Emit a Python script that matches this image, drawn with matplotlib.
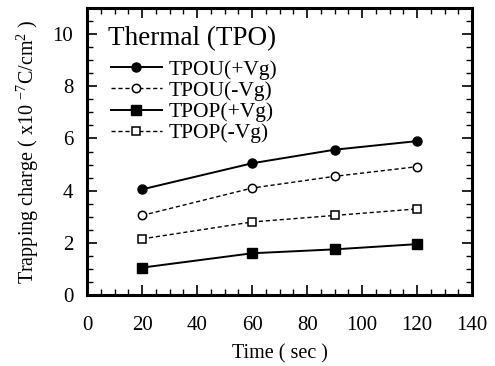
import matplotlib
matplotlib.use("Agg")
import matplotlib.pyplot as plt
from matplotlib.ticker import MultipleLocator

plt.rcParams['font.family'] = ['Liberation Serif', 'DejaVu Serif']
plt.rcParams['mathtext.fontset'] = 'custom'
plt.rcParams['mathtext.rm'] = 'Liberation Serif'
plt.rcParams['mathtext.it'] = 'Liberation Serif:italic'

time_sec = [20, 60, 90, 120]
tpou_pos = [4.05, 5.05, 5.57, 5.9]
tpou_neg = [3.05, 4.1, 4.55, 4.92]
tpop_pos = [1.05, 1.6, 1.75, 1.95]
tpop_neg = [2.15, 2.8, 3.05, 3.3]

fig = plt.figure(figsize=(4.95, 3.66), dpi=100)
axe = fig.add_axes([0.176, 0.194, 0.778, 0.784])

dash = (0, (3, 2))
axe.plot(time_sec, tpou_pos, color='black', linestyle='-', linewidth=1.4,
         marker='o', markersize=6.5, label='TPOU(+Vg)')
axe.plot(time_sec, tpou_neg, color='black', linestyle=dash, linewidth=1.0,
         marker='o', markersize=6, markerfacecolor='white', markeredgewidth=1.1,
         label='TPOU(-Vg)')
axe.plot(time_sec, tpop_pos, color='black', linestyle='-', linewidth=1.4,
         marker='s', markersize=7, label='TPOP(+Vg)')
axe.plot(time_sec, tpop_neg, color='black', linestyle=dash, linewidth=1.0,
         marker='s', markersize=6, markerfacecolor='white', markeredgewidth=1.1,
         label='TPOP(-Vg)')

axe.set_xlim(0, 140)
axe.set_ylim(0, 11)
axe.xaxis.set_major_locator(MultipleLocator(20))
axe.xaxis.set_minor_locator(MultipleLocator(5))
axe.yaxis.set_major_locator(MultipleLocator(2))
axe.yaxis.set_minor_locator(MultipleLocator(0.5))
axe.set_yticks([0, 2, 4, 6, 8, 10])
axe.tick_params(which='both', direction='in', top=True, right=True,
                labelsize=15)
axe.tick_params(axis='x', pad=15)
axe.tick_params(axis='y', pad=10)
axe.tick_params(which='major', length=7, width=1.2)
axe.tick_params(which='minor', length=4, width=1.0)
for sp in axe.spines.values():
    sp.set_linewidth(2.2)

axe.set_xlabel('Time ( sec )', fontsize=14.5, labelpad=7)
axe.set_ylabel('Trapping charge ( x10 $^{-7}$C/cm$^{2}$ )', fontsize=14.5,
               labelpad=8)

axe.text(0.055, 0.871, 'Thermal (TPO)', transform=axe.transAxes,
         fontsize=19.5, ha='left', va='baseline')
axe.legend(loc='upper left', bbox_to_anchor=(0.062, 0.82), frameon=False,
           fontsize=15.5, handlelength=2.35, handletextpad=0.35,
           labelspacing=0.05, borderpad=0, borderaxespad=0)

fig.savefig('out.png', dpi=100)
